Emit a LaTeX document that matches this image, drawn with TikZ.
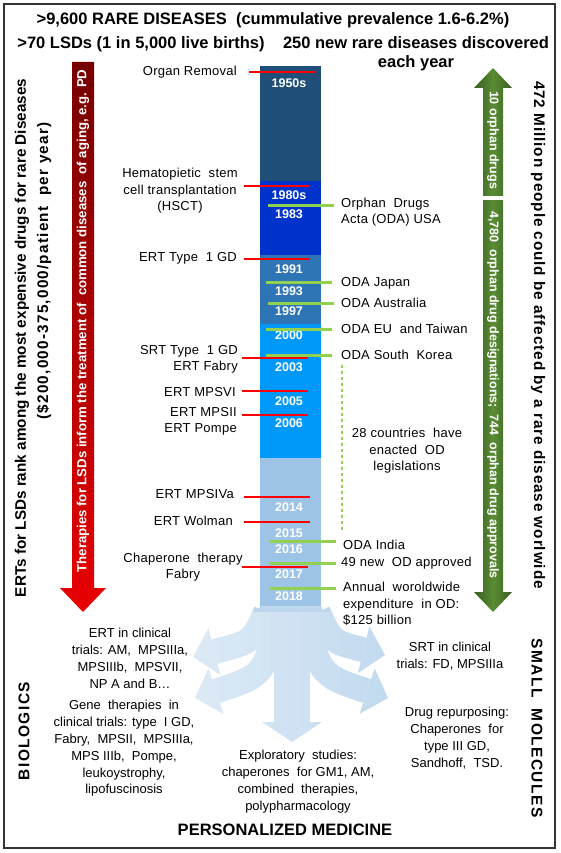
\documentclass[tikz,border=0pt]{standalone}
\usepackage{fontspec}
\setmainfont{Liberation Sans}
\usetikzlibrary{arrows.meta}

\definecolor{eraA}{RGB}{31,78,121}
\definecolor{eraB}{RGB}{0,51,204}
\definecolor{eraC}{RGB}{46,117,182}
\definecolor{eraD}{RGB}{0,153,250}
\definecolor{eraE}{RGB}{157,195,230}
\definecolor{fanblue}{RGB}{189,215,238}
\definecolor{markred}{RGB}{255,0,0}
\definecolor{markgreen}{RGB}{146,208,80}
\definecolor{odadark}{RGB}{56,95,32}
\definecolor{odalight}{RGB}{90,140,52}
\definecolor{ertdark}{RGB}{118,0,0}
\definecolor{ertbright}{RGB}{232,0,0}

\tikzset{
  every node/.style={inner sep=0pt},
  plain/.style={font=\fontsize{13}{16.5}\selectfont\addfontfeature{LetterSpace=2}},
  leftevent/.style={plain, anchor=east, align=right},
  rightevent/.style={plain, anchor=west, align=left},
  bottomtext/.style={font=\fontsize{13}{16.8}\selectfont, align=center},
  yearlabel/.style={font=\bfseries\fontsize{12.5}{14}\selectfont, text=white},
  heading/.style={font=\bfseries\fontsize{16.5}{19}\selectfont, align=center},
  sidetext/.style={font=\bfseries\fontsize{15.3}{17}\selectfont},
  widetext/.style={font=\bfseries\fontsize{15.5}{17}\selectfont\addfontfeature{LetterSpace=9}},
  arrowtext/.style={font=\bfseries\fontsize{12.5}{14}\selectfont, text=white},
  redmark/.style={draw=markred, line width=2pt},
  greenmark/.style={draw=markgreen, line width=3pt},
  fanarrow/.style={draw=fanblue, -{Triangle[length=22pt,width=48pt,line width=0pt]}},
}

\begin{document}
\begin{tikzpicture}[x=1pt,y=-1pt]
  \useasboundingbox (0,0) rectangle (560,853);
  \draw[line width=1.5pt, black!80] (4,4) rectangle (555,848);

  % headings
  \node[heading] (rare) at (273,20) {>9,600 RARE DISEASES\ \ (cummulative prevalence 1.6-6.2\%)};
  \node[heading] (lsd) at (141,44) {>70 LSDs (1 in 5,000 live births)};
  \node[heading] (newrare) at (416,53.5) {250 new rare diseases discovered\\each year};

  % timeline column
  \foreach \top/\bot/\col in {66/181/eraA, 181/255/eraB, 255/324/eraC, 324/458/eraD, 458/607/eraE}
    \fill[\col] (260,\top) rectangle (321,\bot);
  \foreach \yr/\ypos in {1950s/83, 1980s/195, 1983/214, 1991/269, 1993/291, 1997/311,
      2000/335, 2003/367, 2005/401, 2006/423, 2014/507, 2015/533, 2016/549, 2017/574, 2018/596}
    \node[yearlabel] (y\yr) at (289,\ypos) {\yr};

  % fan of therapies
  \fill[fanblue] (260,606) -- (321,606) -- (334,636) -- (247,636) -- cycle;
  \draw[fanarrow, line width=36pt, -{Triangle[length=20pt,width=60pt,line width=0pt]}]
    (292,610) -- (292,742);
  \draw[fanarrow, line width=25pt] (266,612) .. controls (252,642) .. (193,657);
  \draw[fanarrow, line width=25pt] (278,626) .. controls (262,676) .. (195,698);
  \draw[fanarrow, line width=25pt] (306,626) .. controls (322,676) .. (388,698);
  \draw[fanarrow, line width=25pt] (318,612) .. controls (332,642) .. (385,655);
  \foreach \i [evaluate=\i as \op using 0.55*(1-\i/26)] in {0,...,25}
    \fill[white, opacity=\op] (160+10*\i,612) rectangle ++(10,140);

  % therapies on the left
  \foreach \ypos/\xa in {72/249, 186/244, 259/244, 358/242, 391/242, 415/242, 497/244, 522/244, 567/242}
    \draw[redmark] (\xa,\ypos) -- ++(66,0);
  \node[leftevent] (organ) at (237,72) {Organ Removal};
  \node[plain, align=center] (hsct) at (180,191) {Hematopietic\ \ stem\\cell transplantation\\(HSCT)};
  \node[leftevent] (ertgd) at (237,258) {ERT Type\ \ 1 GD};
  \node[leftevent] (srtgd) at (238,359.5) {SRT Type\ \ 1 GD\\ERT Fabry};
  \node[leftevent] (mpsvi) at (236,392) {ERT MPSVI};
  \node[leftevent] (mpsii) at (237,421.5) {ERT MPSII\\ERT Pompe};
  \node[leftevent] (mpsiva) at (234,494) {ERT MPSIVa};
  \node[leftevent] (wolman) at (233,521) {ERT Wolman};
  \node[plain, align=center] (chaperone) at (183,567) {Chaperone\ \ therapy\\Fabry};

  % orphan drug acts on the right
  \foreach \ypos/\xa in {205/268, 282/266, 303/268, 329/266, 355/266, 541/270, 563/270, 588/270}
    \draw[greenmark] (\xa,\ypos) -- ++(66,0);
  \draw[markgreen, line width=1.5pt, dashed] (342,365) -- (342,530);
  \node[rightevent] (odausa) at (341,212) {Orphan\ \ Drugs\\ Acta (ODA) USA};
  \node[rightevent] (odajp) at (341,283) {ODA Japan};
  \node[rightevent] (odaau) at (341,303) {ODA Australia};
  \node[rightevent] (odaeu) at (341,329) {ODA EU\ \ and Taiwan};
  \node[rightevent] (odakr) at (341,355) {ODA South\ \ Korea};
  \node[plain, align=center] (countries) at (407,451) {28 countries\ \ have\\enacted\ \ OD\\legislations};
  \node[rightevent] (odain) at (343,545) {ODA India};
  \node[rightevent] (newod) at (341,563) {49 new\ \ OD approved};
  \node[rightevent] (spend) at (343,604) {Annual\ \ woroldwide\\expenditure\ \ in OD:\\\$125 billion};

  % red arrow on the left
  \shade[top color=ertdark, bottom color=ertbright]
    (72,62) -- (94,62) -- (94,588) -- (106,588) -- (83,612) -- (60,588) -- (72,588) -- cycle;
  \node[arrowtext, rotate=90, font=\bfseries\fontsize{13.2}{14}\selectfont] (inform) at (83,321)
    {Therapies for LSDs inform the treatment of\ \ common diseases\ \ of aging, e.g. PD};
  \node[sidetext, rotate=90] (ertcost) at (22,338)
    {ERTs for LSDs rank among the most expensive drugs for rare Diseases};
  \node[sidetext, rotate=90, font=\bfseries\fontsize{15.3}{17}\selectfont\addfontfeature{LetterSpace=8}]
    (ertprice) at (44,271) {(\$200,000-375,000/patient\ \ per year)};

  % green arrow on the right
  \shade[left color=odadark, right color=odadark, middle color=odalight]
    (493,68) -- (512,88) -- (503,88) -- (503,592) -- (512,592) -- (493,612)
    -- (474,592) -- (483,592) -- (483,88) -- (474,88) -- cycle;
  \fill[white] (481,196) rectangle (505,199.5);
  \node[arrowtext, rotate=-90] (tenod) at (493,140) {10 orphan drugs};
  \node[arrowtext, rotate=-90] (designations) at (493,395)
    {4,780\ \ orphan drug designations;\ \ 744\ \ orphan drug approvals};
  \node[sidetext, rotate=-90, font=\bfseries\fontsize{15.3}{17}\selectfont\addfontfeature{LetterSpace=6}]
    (million) at (538,335)
    {472 Million people could be affected by a rare disease worlwide};

  % bottom
  \node[bottomtext] (ertclin) at (130,658.5) {ERT in clinical\\trials: AM,\ \ MPSIIIa,\\MPSIIIb,\ \ MPSVII,\\NP A and B\dots};
  \node[bottomtext] (gene) at (124,748.5) {Gene\ \ therapies\ \ in\\clinical trials: type\ \ I GD,\\Fabry,\ \ MPSII,\ \ MPSIIIa,\\MPS IIIb,\ \ Pompe,\\leukoystrophy,\\lipofuscinosis};
  \node[bottomtext] (explor) at (298,781.5) {Exploratory\ \ studies:\\chaperones\ \ for GM1, AM,\\combined\ \ therapies,\\polypharmacology};
  \node[bottomtext] (srtclin) at (450,656) {SRT in clinical\\trials: FD, MPSIIIa};
  \node[bottomtext] (repurp) at (457,738) {Drug repurposing:\\Chaperones\ \ for\\type III GD,\\Sandhoff,\ \ TSD.};
  \node[widetext, rotate=90] (biologics) at (24,731) {BIOLOGICS};
  \node[widetext, rotate=-90] (smallmol) at (537,728) {SMALL\ \ MOLECULES};
  \node[heading] (personal) at (285,830) {PERSONALIZED MEDICINE};
\end{tikzpicture}
\end{document}
